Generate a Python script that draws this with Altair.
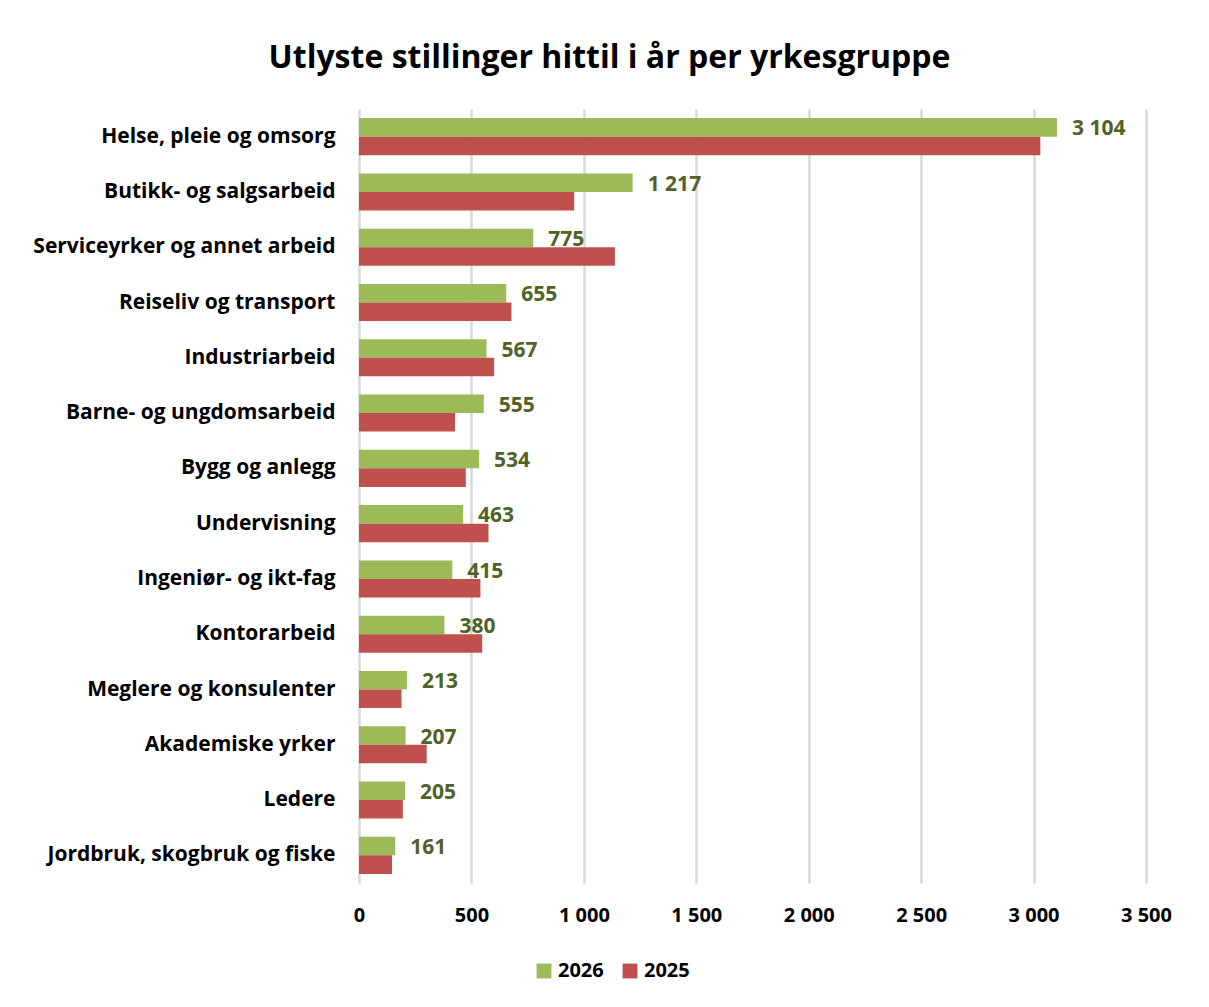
import altair as alt
import pandas as pd

categories = [
    "Helse, pleie og omsorg", "Butikk- og salgsarbeid", "Serviceyrker og annet arbeid",
    "Reiseliv og transport", "Industriarbeid", "Barne- og ungdomsarbeid", "Bygg og anlegg",
    "Undervisning", "Ingeniør- og ikt-fag", "Kontorarbeid", "Meglere og konsulenter",
    "Akademiske yrker", "Ledere", "Jordbruk, skogbruk og fiske",
]
values_2026 = [3104, 1217, 775, 655, 567, 555, 534, 463, 415, 380, 213, 207, 205, 161]
values_2025 = [3030, 957, 1138, 678, 601, 427, 475, 576, 540, 548, 189, 301, 195, 147]
years = ["2026", "2025"]
colors = ["#9BBB59", "#C0504D"]

rows = []
for c, v in zip(categories, values_2026):
    rows.append({"kategori": c, "år": "2026", "verdi": v, "etikett": f"{v:,}".replace(",", " ")})
for c, v in zip(categories, values_2025):
    rows.append({"kategori": c, "år": "2025", "verdi": v, "etikett": ""})
df = pd.DataFrame(rows)

FONT = "Open Sans"

y_enc = alt.Y("kategori:N", sort=categories, title=None,
              scale=alt.Scale(paddingInner=0.33, paddingOuter=0.165),
              axis=alt.Axis(labelFontSize=21, labelFontWeight="bold", labelColor="#000000",
                            labelPadding=24, ticks=False, domain=False, grid=False,
                            labelFont=FONT, labelLimit=400))
yoff = alt.YOffset("år:N", sort=years)

bars = alt.Chart(df).mark_bar().encode(
    x=alt.X("verdi:Q", title=None,
            scale=alt.Scale(domain=[0, 3500], nice=False),
            axis=alt.Axis(values=[0, 500, 1000, 1500, 2000, 2500, 3000, 3500],
                          labelExpr="replace(format(datum.value, ','), ',', ' ')",
                          labelFontSize=20, labelFontWeight="bold", labelColor="#000000",
                          labelFont=FONT, labelPadding=22, labelFlush=False,
                          ticks=False, domain=False,
                          grid=True, gridColor="#D9D9D9", gridWidth=2.5)),
    y=y_enc,
    yOffset=yoff,
    color=alt.Color("år:N", sort=years,
                    scale=alt.Scale(domain=years, range=colors),
                    legend=alt.Legend(title=None, orient="none", legendX=175, legendY=852,
                                      direction="horizontal", symbolType="square",
                                      symbolSize=220, symbolStrokeWidth=0,
                                      labelFontSize=20, labelFontWeight="bold",
                                      labelFont=FONT, labelColor="#000000",
                                      columnPadding=16, labelOffset=4, padding=0)),
)

labels = alt.Chart(df).transform_filter(alt.datum["år"] == "2026").mark_text(
    align="left", baseline="middle", dx=15, dy=2, fontSize=21, fontWeight="bold",
    color="#4F6228", font=FONT,
).encode(
    x="verdi:Q",
    y=alt.Y("kategori:N", sort=categories),
    yOffset=yoff,
    text="etikett:N",
)

chart = alt.layer(bars, labels).properties(
    width=787, height=774,
    background="#FFFFFF",
    title=alt.TitleParams("Utlyste stillinger hittil i år per yrkesgruppe",
                          fontSize=32, fontWeight="bold", font=FONT, color="#000000",
                          anchor="middle", dx=-143, offset=34),
    autosize=alt.AutoSizeParams(type="none"),
    padding={"left": 351, "top": 101, "right": 40, "bottom": 100},
).configure_view(stroke="transparent", strokeWidth=0)

chart.save("out.html", embed_options={"renderer": "svg", "actions": False})
